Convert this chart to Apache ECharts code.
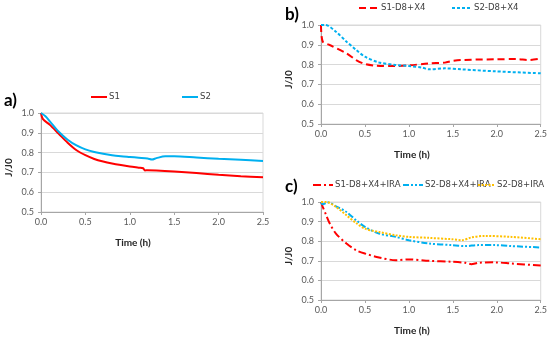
<!DOCTYPE html>
<html><head><meta charset="utf-8">
<script src="https://cdn.jsdelivr.net/npm/echarts@6/dist/echarts.min.js"></script>
<style>html,body{margin:0;padding:0;background:#fff}#c{width:550px;height:339px}</style>
</head><body><div id="c"></div>
<script>
// ---- Data ----
const xTicks = [0.0, 0.5, 1.0, 1.5, 2.0, 2.5];
const yTicks = [0.5, 0.6, 0.7, 0.8, 0.9, 1.0];

// Panel a
const aS1Time = [0, 0.02, 0.1, 0.2, 0.3, 0.4, 0.5, 0.6, 0.7, 0.8, 0.9, 1.0, 1.1, 1.15, 1.17, 1.2, 1.3, 1.5, 1.75, 2.0, 2.25, 2.5];
const aS1 = [1.0, 0.97, 0.94, 0.895, 0.85, 0.812, 0.787, 0.768, 0.755, 0.745, 0.737, 0.730, 0.724, 0.721, 0.710, 0.711, 0.710, 0.705, 0.697, 0.688, 0.681, 0.675];
const aS2Time = [0, 0.05, 0.1, 0.2, 0.3, 0.4, 0.5, 0.6, 0.7, 0.8, 0.9, 1.0, 1.1, 1.2, 1.25, 1.3, 1.4, 1.5, 1.75, 2.0, 2.25, 2.5];
const aS2 = [1.0, 0.984, 0.958, 0.905, 0.865, 0.836, 0.816, 0.803, 0.794, 0.787, 0.782, 0.778, 0.774, 0.770, 0.765, 0.772, 0.781, 0.781, 0.775, 0.769, 0.764, 0.758];

// Panel b
const bS1Time = [0, 0.02, 0.1, 0.29, 0.4, 0.5, 0.62, 0.85, 1.0, 1.23, 1.41, 1.49, 1.6, 1.98, 2.24, 2.35, 2.5];
const bS1 = [1.0, 0.916, 0.899, 0.857, 0.823, 0.803, 0.795, 0.793, 0.796, 0.806, 0.81, 0.818, 0.823, 0.827, 0.828, 0.823, 0.83];
const bS2Time = [0, 0.05, 0.17, 0.29, 0.4, 0.5, 0.66, 0.85, 1.0, 1.15, 1.23, 1.41, 1.6, 1.98, 2.5];
const bS2 = [1.0, 1.0, 0.966, 0.916, 0.874, 0.84, 0.811, 0.798, 0.793, 0.785, 0.776, 0.781, 0.776, 0.766, 0.756];

// Panel c
const cS1Time = [0, 0.02, 0.06, 0.1, 0.17, 0.29, 0.4, 0.5, 0.66, 0.85, 1.0, 1.23, 1.49, 1.64, 1.71, 1.79, 1.98, 2.17, 2.5];
const cS1 = [1.0, 0.975, 0.932, 0.89, 0.839, 0.788, 0.754, 0.737, 0.717, 0.703, 0.707, 0.70, 0.695, 0.69, 0.683, 0.69, 0.692, 0.686, 0.676];
const cS2Time = [0, 0.02, 0.08, 0.17, 0.29, 0.4, 0.5, 0.66, 0.85, 1.0, 1.23, 1.49, 1.64, 1.79, 1.98, 2.17, 2.5];
const cS2 = [1.0, 0.988, 0.998, 0.978, 0.949, 0.907, 0.873, 0.839, 0.822, 0.805, 0.788, 0.78, 0.775, 0.78, 0.78, 0.775, 0.768];
const cS3Time = [0, 0.06, 0.17, 0.29, 0.4, 0.5, 0.66, 0.85, 1.0, 1.23, 1.49, 1.6, 1.71, 1.86, 2.17, 2.5];
const cS3 = [1.0, 1.0, 0.975, 0.932, 0.893, 0.864, 0.847, 0.83, 0.822, 0.817, 0.81, 0.805, 0.819, 0.827, 0.822, 0.81];

const seriesNames = ['S1', 'S2', 'S1-D8+X4', 'S2-D8+X4', 'S1-D8+X4+IRA', 'S2-D8+X4+IRA', 'S2-D8+IRA'];
const panelLabels = ['a)', 'b)', 'c)'];

// ---- Styling / layout ----
const RED = '#ff0000', BLUE = '#00b0f0', ORANGE = '#ffc000';
const FONT = 'Lato';
const LEGEND_FONT = "'Liberation Sans Narrow', 'DejaVu Sans Condensed', Lato";
const zip = (xs, ys) => xs.map((x, i) => [x, ys[i]]);

const grids = [
  {left: 41, top: 113, width: 222, height: 99},
  {left: 321, top: 25, width: 222, height: 99},
  {left: 321, top: 202, width: 222, height: 98}
].map(g => Object.assign(g, {show: true, borderColor: '#d9d9d9', borderWidth: 1, backgroundColor: 'transparent'}));

function xAxis(i) {
  return {
    type: 'value', gridIndex: i, min: xTicks[0], max: xTicks[xTicks.length - 1], interval: 0.5,
    name: 'Time (h)', nameLocation: 'middle', nameGap: 26,
    nameTextStyle: {fontFamily: FONT, fontWeight: 'bold', fontSize: 10, color: '#262626', padding: [0, 38, 0, 0]},
    axisLine: {show: true, lineStyle: {color: '#a6a6a6', width: 1}},
    axisTick: {show: true, length: 3, lineStyle: {color: '#a6a6a6'}},
    axisLabel: {fontFamily: FONT, fontSize: 9, color: '#595959', margin: 6, formatter: v => v.toFixed(1)},
    splitLine: {show: false}
  };
}
function yAxis(i) {
  return {
    type: 'value', gridIndex: i, min: yTicks[0], max: yTicks[yTicks.length - 1], interval: 0.1,
    name: 'J/J0', nameLocation: 'middle', nameGap: 27, nameRotate: 90,
    nameTextStyle: {fontFamily: FONT, fontWeight: 'bold', fontSize: 10, color: '#262626', padding: [0, 10, 0, 0]},
    axisLine: {show: true, lineStyle: {color: '#a6a6a6', width: 1}},
    axisTick: {show: true, length: 3, lineStyle: {color: '#a6a6a6'}},
    axisLabel: {fontFamily: FONT, fontSize: 9, color: '#595959', margin: 7, formatter: v => v.toFixed(1)},
    splitLine: {show: true, lineStyle: {color: '#d9d9d9', width: 1}}
  };
}

function line(name, idx, xs, ys, color, type, width) {
  return {
    name, type: 'line', xAxisIndex: idx, yAxisIndex: idx, data: zip(xs, ys),
    showSymbol: false, symbol: 'none', smooth: 0.3, animation: false,
    lineStyle: {color, width, type}, itemStyle: {color}
  };
}

const series = [
  line(seriesNames[0], 0, aS1Time, aS1, RED, 'solid', 2),
  line(seriesNames[1], 0, aS2Time, aS2, BLUE, 'solid', 2),
  line(seriesNames[2], 1, bS1Time, bS1, RED, [7, 4], 2),
  line(seriesNames[3], 1, bS2Time, bS2, BLUE, [3, 2], 2),
  line(seriesNames[4], 2, cS1Time, cS1, RED, [8, 3, 2, 3], 2),
  line(seriesNames[5], 2, cS2Time, cS2, BLUE, [6, 2, 2, 2, 2, 2], 2),
  line(seriesNames[6], 2, cS3Time, cS3, ORANGE, [2, 1.5], 2)
];

const legendPos = [
  {left: 90, top: 92}, {left: 181, top: 92},
  {left: 358, top: 3}, {left: 451, top: 3},
  {left: 312, top: 180}, {left: 402, top: 180}, {left: 477, top: 180}
];
const legends = seriesNames.map((n, i) => ({
  data: [n], left: legendPos[i].left, top: legendPos[i].top,
  itemWidth: i === 0 || i === 1 ? 16 : (i === 6 ? 17 : 20), itemHeight: 2, itemGap: 0, padding: 0,
  itemStyle: {opacity: 0},
  textStyle: {fontFamily: LEGEND_FONT, fontSize: 9.5, color: '#404040', padding: [0, 0, 0, -3]},
  selectedMode: false
}));

const labelPos = [[4, 92], [285, 6], [285, 178]];
const graphic = panelLabels.map((t, i) => ({
  type: 'text', left: labelPos[i][0], top: labelPos[i][1],
  style: {text: t, font: 'bold 17px ' + FONT, fill: '#000'}
}));

const chart = echarts.init(document.getElementById('c'), null, {renderer: 'canvas'});
chart.setOption({
  animation: false,
  backgroundColor: '#fff',
  grid: grids,
  xAxis: [0, 1, 2].map(xAxis),
  yAxis: [0, 1, 2].map(yAxis),
  legend: legends,
  graphic,
  series
});
</script></body></html>
